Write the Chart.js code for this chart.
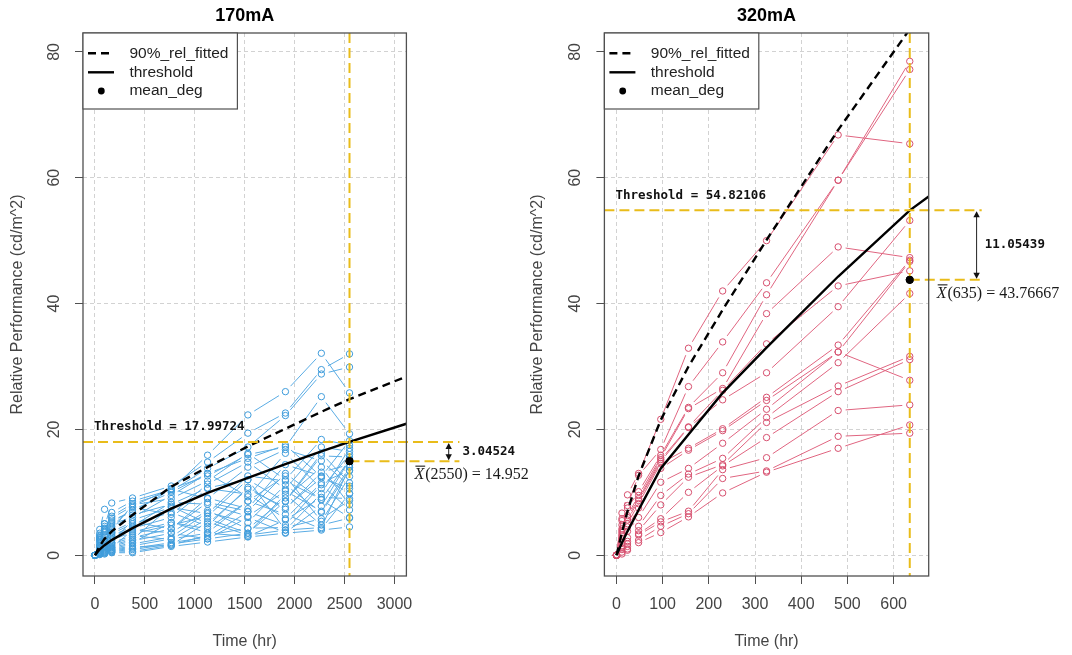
<!DOCTYPE html>
<html><head><meta charset="utf-8">
<script src="https://cdn.jsdelivr.net/npm/chart.js@4.4.0/dist/chart.umd.min.js"></script>
<style>
html,body{margin:0;padding:0;background:#fff;width:1072px;height:655px;overflow:hidden;}
#wl{position:absolute;left:0;top:0;width:545px;height:655px;}
#wr{position:absolute;left:520px;top:0;width:552px;height:655px;}
canvas{display:block;}
</style></head><body>
<div id="wl"><canvas id="cl" width="545" height="655"></canvas></div>
<div id="wr"><canvas id="cr" width="552" height="655"></canvas></div>
<script>
// ---------------- DATA ----------------
const leftTitle = '170mA';
const rightTitle = '320mA';
const xAxisTitle = 'Time (hr)';
const yAxisTitle = 'Relative Performance (cd/m^2)';
const legendLabels = ['90%_rel_fitted', 'threshold', 'mean_deg'];
const yTicks = [0, 20, 40, 60, 80];
const leftXTicks = [0, 500, 1000, 1500, 2000, 2500, 3000];
const rightXTicks = [0, 100, 200, 300, 400, 500, 600];

// 170mA measurement times and unit values
const leftTimes = [0, 48, 96, 168, 376, 764, 1128, 1532, 1908, 2268, 2550];
const leftSeries = [
  [0, 3.2, 5.0, 6.8, 8.6, 10.4, 15.9, 22.3, 26.0, 32.1, 25.8],
  [0, 2.8, 4.6, 8.3, 9.1, 11.0, 14.8, 19.4, 22.6, 29.5, 32.0],
  [0, 4.1, 7.3, 6.2, 8.2, 10.2, 13.8, 17.2, 22.2, 28.8, 29.9],
  [0, 2.5, 4.2, 5.9, 7.8, 10.6, 12.6, 16.0, 17.2, 25.2, 19.3],
  [0, 3.5, 2.0, 5.3, 7.2, 10.0, 13.0, 15.4, 17.5, 12.5, 18.2],
  [0, 3.0, 5.0, 4.0, 8.0, 9.0, 11.8, 16.2, 12.0, 18.4, 17.5],
  [0, 1.2, 4.0, 5.6, 6.8, 10.5, 9.0, 14.0, 16.8, 15.0, 11.0],
  [0, 2.8, 4.3, 4.6, 7.6, 6.5, 11.3, 14.8, 10.5, 17.2, 16.5],
  [0, 2.4, 3.7, 5.0, 6.0, 9.5, 13.0, 9.3, 16.2, 10.6, 16.0],
  [0, 2.6, 1.4, 4.3, 6.4, 8.1, 10.7, 12.0, 8.5, 15.8, 15.6],
  [0, 2.2, 3.1, 2.0, 5.6, 7.6, 6.6, 12.6, 11.8, 8.9, 15.2],
  [0, 2.0, 2.9, 3.7, 5.3, 4.2, 9.1, 7.4, 14.4, 12.6, 9.8],
  [0, 0.8, 2.6, 3.4, 5.0, 6.8, 4.6, 10.8, 7.3, 13.2, 14.4],
  [0, 1.6, 2.4, 3.1, 4.6, 8.4, 8.1, 6.2, 10.2, 7.0, 14.0],
  [0, 1.5, 3.8, 2.9, 4.3, 6.0, 10.6, 9.7, 5.8, 11.5, 13.5],
  [0, 1.4, 2.0, 1.2, 4.0, 3.6, 7.1, 4.2, 9.1, 14.0, 8.0],
  [0, 1.2, 1.8, 2.4, 3.7, 5.2, 3.6, 8.6, 12.6, 5.4, 12.5],
  [0, 1.1, 1.6, 3.6, 3.4, 4.8, 6.2, 12.0, 4.0, 9.8, 17.0],
  [0, 1.0, 1.4, 2.0, 3.1, 2.5, 5.8, 3.5, 8.6, 16.2, 11.5],
  [0, 0.9, 1.3, 1.8, 2.8, 4.2, 8.4, 7.0, 13.0, 8.8, 6.0],
  [0, 0.8, 1.1, 1.6, 2.5, 7.8, 5.0, 10.5, 7.6, 12.3, 10.6],
  [0, 0.7, 1.0, 1.4, 2.3, 3.5, 2.6, 6.0, 3.6, 7.8, 15.2],
  [0, 0.6, 0.9, 1.2, 2.0, 5.2, 4.2, 8.6, 6.5, 4.2, 9.8],
  [0, 0.5, 0.8, 1.0, 1.8, 2.9, 6.8, 5.2, 11.2, 6.8, 13.4],
  [0, 0.45, 0.7, 0.9, 1.5, 2.6, 3.5, 3.0, 5.6, 9.2, 9.0],
  [0, 0.4, 0.6, 0.8, 1.3, 1.6, 3.2, 4.3, 4.4, 5.8, 8.7],
  [0, 0.3, 0.5, 0.7, 1.1, 2.0, 2.9, 6.9, 4.8, 11.2, 7.2],
  [0, 0.25, 0.4, 0.6, 0.9, 1.8, 2.6, 3.5, 9.7, 4.8, 5.9],
  [0, 0.2, 0.3, 0.5, 0.6, 1.6, 5.3, 3.2, 4.0, 4.4, 14.0],
  [0, 0.1, 0.2, 0.4, 0.4, 1.4, 2.1, 2.9, 3.5, 4.0, 4.5]
];
const leftCurveTimes = [0, 48, 96, 168, 376, 764, 1128, 1532, 1908, 2268, 2550, 3120];
const leftThresholdCurve = [0, 0.95, 1.6, 2.4, 4.3, 7.4, 9.9, 12.3, 14.5, 16.5, 18.0, 20.9];
const leftFittedCurve = [0, 1.5, 2.6, 3.8, 6.4, 10.9, 14.0, 17.3, 20.1, 22.8, 24.8, 28.4];
const leftThreshold = 17.99724;
const leftMeanTime = 2550;
const leftMean = 14.952;
const leftDiff = 3.04524;

// 320mA measurement times and unit values
const rightTimes = [0, 12, 24, 48, 96, 156, 230, 325, 480, 635];
const rightSeries = [
  [0, 6.7, 9.6, 13.0, 21.6, 32.9, 42.0, 50.0, 66.8, 65.4],
  [0, 5.8, 7.9, 12.7, 16.8, 26.8, 33.9, 43.3, 59.6, 78.5],
  [0, 5.5, 7.5, 10.1, 15.9, 23.5, 29.0, 41.4, 59.6, 77.2],
  [0, 4.8, 6.3, 9.5, 15.5, 23.3, 26.5, 38.4, 49.0, 47.3],
  [0, 4.2, 6.0, 9.0, 15.2, 20.4, 26.2, 33.6, 42.8, 45.2],
  [0, 3.9, 5.6, 8.7, 14.9, 20.3, 24.7, 29.0, 39.5, 53.2],
  [0, 3.6, 5.0, 8.2, 14.6, 17.0, 20.1, 25.1, 33.4, 46.9],
  [0, 3.2, 4.5, 7.5, 13.8, 16.7, 19.8, 24.6, 32.3, 46.7],
  [0, 2.6, 3.8, 6.0, 11.6, 13.8, 17.8, 23.2, 32.3, 27.8],
  [0, 2.0, 2.8, 4.6, 9.5, 12.9, 15.4, 21.9, 30.6, 41.6],
  [0, 1.5, 2.2, 3.9, 8.0, 12.4, 14.4, 21.1, 26.9, 31.6],
  [0, 1.2, 1.8, 3.4, 5.8, 10.0, 14.2, 18.7, 26.0, 31.1],
  [0, 0.9, 1.4, 3.2, 5.3, 7.0, 13.6, 15.5, 23.0, 23.9],
  [0, 0.5, 1.0, 2.4, 4.6, 6.6, 12.2, 13.4, 18.9, 19.4],
  [0, 0.2, 0.8, 2.0, 3.6, 6.1, 9.9, 13.2, 17.0, 20.7]
];
const rightCurveTimes = [0, 12, 24, 48, 96, 156, 230, 325, 480, 635, 676];
const rightThresholdCurve = [0, 2.0, 3.8, 7.2, 13.8, 19.2, 25.8, 33.0, 44.3, 54.82, 57.0];
const rightFittedCurve = [0, 3.6, 7.0, 12.6, 21.5, 30.0, 39.0, 50.1, 67.6, 83.6, 88.0];
const rightThreshold = 54.82106;
const rightMeanTime = 635;
const rightMean = 43.76667;
const rightDiff = 11.05439;

// ---------------- STYLE / LAYOUT ----------------
const YELLOW = '#E9BC1A';
const GAP = 7.5;
const SANS = "'Liberation Sans', Arial, sans-serif";
const MONO = "'DejaVu Sans Mono', monospace";
const SERIF = "'Liberation Serif', 'DejaVu Serif', serif";
const AXCOL = '#444';

function makeChart(P) {
  const datasets = [];
  P.series.forEach(vals => {
    datasets.push({
      data: P.times.map((t, i) => ({x: t, y: vals[i]})),
      showLine: false, pointRadius: 3.2, pointHoverRadius: 3.2, pointBorderWidth: 1,
      pointBorderColor: P.pointColor, pointBackgroundColor: 'rgba(0,0,0,0)',
      borderColor: P.lineColor, order: 3
    });
  });
  const nSeries = datasets.length;
  datasets.push({data: P.curveT.map((t, i) => ({x: t, y: P.fit[i]})), borderColor: '#000', borderWidth: 2.4,
    borderDash: [8, 5], pointRadius: 0, tension: 0, order: 1, fill: false});
  datasets.push({data: P.curveT.map((t, i) => ({x: t, y: P.thr[i]})), borderColor: '#000', borderWidth: 2.4,
    pointRadius: 0, tension: 0, order: 1, fill: false});
  const meanIdx = datasets.length;
  datasets.push({data: [{x: P.meanTime, y: P.mean}], showLine: false, pointRadius: 3.6,
    pointBackgroundColor: '#000', pointBorderColor: '#000', pointBorderWidth: 1, order: 0});

  const plugin = {
    id: 'rdeco' + P.id,
    beforeDatasetsDraw(chart) {
      const {ctx, chartArea: a} = chart;
      ctx.save();
      ctx.beginPath(); ctx.rect(a.left, a.top, a.right - a.left, a.bottom - a.top); ctx.clip();
      ctx.strokeStyle = P.lineColor; ctx.lineWidth = 1; ctx.setLineDash([]);
      for (let i = 0; i < nSeries; i++) {
        const pts = chart.getDatasetMeta(i).data;
        for (let j = 0; j < pts.length - 1; j++) {
          const p = pts[j], q = pts[j + 1];
          const dx = q.x - p.x, dy = q.y - p.y, L = Math.hypot(dx, dy);
          if (L <= 2 * GAP + 1) continue;
          const ux = dx / L, uy = dy / L;
          ctx.beginPath();
          ctx.moveTo(p.x + ux * GAP, p.y + uy * GAP);
          ctx.lineTo(q.x - ux * GAP, q.y - uy * GAP);
          ctx.stroke();
        }
      }
      ctx.restore();
    },
    afterDatasetsDraw(chart) {
      const {ctx, chartArea: a, scales: {x, y}} = chart;
      const yt = y.getPixelForValue(P.threshold);
      const ym = y.getPixelForValue(P.mean);
      const xm = x.getPixelForValue(P.meanTime);
      ctx.save();
      ctx.strokeStyle = YELLOW; ctx.lineWidth = 2; ctx.setLineDash([10, 5]);
      const seg = (x1, y1, x2, y2) => { ctx.beginPath(); ctx.moveTo(x1, y1); ctx.lineTo(x2, y2); ctx.stroke(); };
      seg(a.left, yt, a.right + 53, yt);
      seg(xm, ym, a.right + 53, ym);
      seg(xm, a.top, xm, a.bottom);
      ctx.setLineDash([]);
      chart.getDatasetMeta(meanIdx).data.forEach(el => el.draw(ctx, a));
      ctx.strokeStyle = '#505050'; ctx.lineWidth = 1.3;
      ctx.strokeRect(a.left, a.top, a.right - a.left, a.bottom - a.top);
      const ax = a.right + P.arrowDx;
      ctx.strokeStyle = '#222'; ctx.fillStyle = '#111'; ctx.lineWidth = 1;
      seg(ax, yt + 2, ax, ym - 2);
      const head = (yy, dir) => { ctx.beginPath(); ctx.moveTo(ax, yy); ctx.lineTo(ax - 3.2, yy + dir * 6); ctx.lineTo(ax + 3.2, yy + dir * 6); ctx.closePath(); ctx.fill(); };
      head(yt + 1, 1); head(ym - 1, -1);
      ctx.fillStyle = '#111'; ctx.textBaseline = 'middle'; ctx.textAlign = 'left';
      ctx.font = 'bold 12.5px ' + MONO;
      ctx.fillText('Threshold = ' + P.threshold, a.left + 11, yt - 15);
      ctx.fillText(String(P.diff), a.right + 56, (yt + ym) / 2);
      const lx = a.right + 8, ly = ym + 13.5;
      ctx.font = 'italic 16px ' + SERIF;
      ctx.fillStyle = '#1a1a1a';
      ctx.fillText('X', lx, ly);
      const wX = ctx.measureText('X').width;
      ctx.strokeStyle = '#1a1a1a'; ctx.lineWidth = 1.1;
      seg(lx + 1, ly - 8.5, lx + wX + 1, ly - 8.5);
      ctx.font = '16px ' + SERIF;
      ctx.fillText('(' + P.meanTime + ') = ' + P.mean, lx + wX + 1, ly);
      const L0 = a.left, T0 = a.top, LW = 154.4, LH = 76;
      ctx.fillStyle = '#fff'; ctx.fillRect(L0, T0, LW, LH);
      ctx.strokeStyle = '#505050'; ctx.lineWidth = 1.2; ctx.strokeRect(L0, T0, LW, LH);
      const rows = [T0 + 20.3, T0 + 39.3, T0 + 58];
      ctx.strokeStyle = '#000'; ctx.lineWidth = 2.4;
      ctx.setLineDash([8, 5]); seg(L0 + 5, rows[0], L0 + 31, rows[0]);
      ctx.setLineDash([]); seg(L0 + 5, rows[1], L0 + 31, rows[1]);
      ctx.fillStyle = '#000'; ctx.beginPath(); ctx.arc(L0 + 18.3, rows[2], 3.4, 0, Math.PI * 2); ctx.fill();
      ctx.fillStyle = '#222'; ctx.font = '15.5px ' + SANS;
      legendLabels.forEach((t, i) => ctx.fillText(t, L0 + 46.4, rows[i]));
      ctx.restore();
    }
  };

  return new Chart(document.getElementById(P.canvas), {
    type: 'line',
    data: {datasets},
    plugins: [plugin],
    options: {
      responsive: false, animation: false, events: [], devicePixelRatio: 1,
      layout: {padding: {left: 0, top: 0, bottom: 0, right: P.padRight}},
      plugins: {
        legend: {display: false}, tooltip: {enabled: false},
        title: {display: true, text: P.title, fullSize: false, color: '#000',
          font: {family: SANS, size: 18, weight: 'bold'}, padding: {top: 5, bottom: 6.4}}
      },
      scales: {
        x: {
          type: 'linear', min: P.xMin, max: P.xMax,
          afterBuildTicks: s => { s.ticks = P.xTicks.map(v => ({value: v})); },
          afterFit: s => { s.height = 79; },
          grid: {color: '#d2d2d2', lineWidth: 1, drawTicks: true, tickLength: 8, tickColor: '#505050', tickWidth: 1, tickBorderDash: []},
          border: {display: false, dash: [4, 3]},
          ticks: {color: AXCOL, font: {family: SANS, size: 16}, padding: 11, maxRotation: 0, autoSkip: false,
            callback: v => String(v)},
          title: {display: true, text: xAxisTitle, color: AXCOL, font: {family: SANS, size: 16}, padding: {top: 0, bottom: 4}}
        },
        y: {
          type: 'linear', min: -3.3, max: 83.0,
          afterBuildTicks: s => { s.ticks = yTicks.map(v => ({value: v})); },
          afterFit: s => { s.width = P.yAxisWidth; },
          grid: {color: '#d2d2d2', lineWidth: 1, drawTicks: true, tickLength: 8, tickColor: '#505050', tickWidth: 1, tickBorderDash: []},
          border: {display: false, dash: [4, 3]},
          ticks: {color: AXCOL, font: {family: SANS, size: 16}, padding: 11.6, minRotation: 90, maxRotation: 90, crossAlign: 'center', autoSkip: false,
            callback: v => String(v)},
          title: {display: true, text: yAxisTitle, color: AXCOL, font: {family: SANS, size: 16}, padding: {top: 7.5, bottom: 0}}
        }
      }
    }
  });
}

makeChart({
  id: 'L', canvas: 'cl', title: leftTitle, times: leftTimes, series: leftSeries,
  pointColor: '#3F9CDB', lineColor: '#5AACE4',
  curveT: leftCurveTimes, thr: leftThresholdCurve, fit: leftFittedCurve,
  xTicks: leftXTicks, xMin: -120, xMax: 3120,
  threshold: leftThreshold, meanTime: leftMeanTime, mean: leftMean, diff: leftDiff,
  arrowDx: 42.3, padRight: 138.6, yAxisWidth: 83
});
makeChart({
  id: 'R', canvas: 'cr', title: rightTitle, times: rightTimes, series: rightSeries,
  pointColor: '#D64F6E', lineColor: '#E06580',
  curveT: rightCurveTimes, thr: rightThresholdCurve, fit: rightFittedCurve,
  xTicks: rightXTicks, xMin: -26, xMax: 676,
  threshold: rightThreshold, meanTime: rightMeanTime, mean: rightMean, diff: rightDiff,
  arrowDx: 47.9, padRight: 143.3, yAxisWidth: 84.4
});
</script>
</body></html>
